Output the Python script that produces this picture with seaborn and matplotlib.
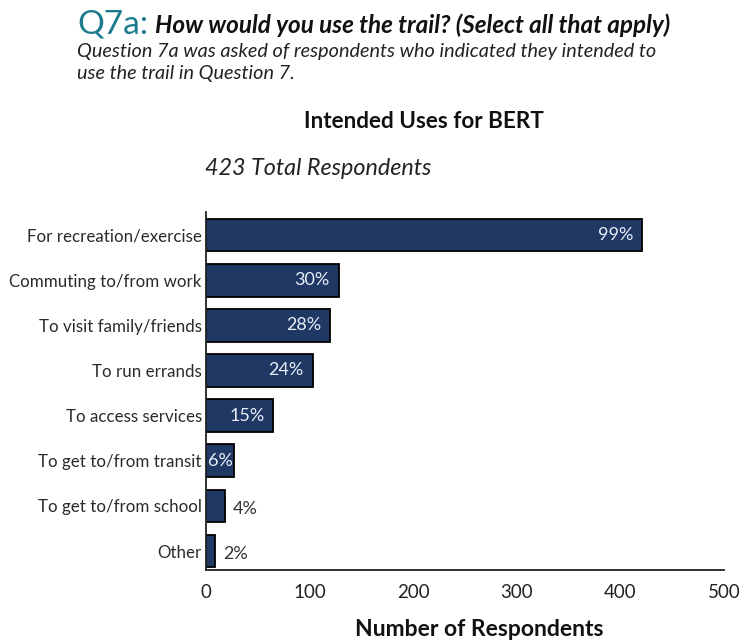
import matplotlib
matplotlib.use("Agg")
import matplotlib.pyplot as plt
import seaborn as sns
import pandas as pd

categories = ["For recreation/exercise", "Commuting to/from work", "To visit family/friends",
              "To run errands", "To access services", "To get to/from transit",
              "To get to/from school", "Other"]
counts = [421, 128, 120, 103, 65, 27, 18, 9]
pct_labels = ["99%", "30%", "28%", "24%", "15%", "6%", "4%", "2%"]
xticks = [0, 100, 200, 300, 400, 500]

sns.set_theme(style="white")
plt.rcParams['font.family'] = ['Lato', 'DejaVu Sans']

df = pd.DataFrame({"category": categories, "count": counts})

fig = plt.figure(figsize=(7.49, 6.42), dpi=100)
ax = fig.add_axes([206/749, 1-570/642, (724-206)/749, (570-212)/642])

sns.barplot(data=df, x="count", y="category", orient="h", color="#1f3864",
            edgecolor="black", linewidth=1.3, width=0.725, saturation=1, ax=ax)

ax.set_xlim(0, 500)
ax.set_ylim(7.42, -0.51)
ax.set_xticks(xticks)
ax.set_xticklabels([str(t) for t in xticks], fontsize=13.5, color="#222222")
ax.tick_params(axis="x", direction="in", length=6, width=1.2, color="#222222", pad=10)
ax.tick_params(axis="y", length=0, labelsize=12.2, labelcolor="#2a2a2a", pad=3)
ax.set_ylabel("")
ax.set_xlabel("Number of Respondents", fontsize=16.5, fontweight="bold", color="#111111")
ax.xaxis.set_label_coords((479 - 206) / 518, -(636 - 570) / 358, transform=ax.transAxes)
ax.xaxis.label.set_va("baseline")
for s in ["top", "right"]:
    ax.spines[s].set_visible(False)
for s in ["left", "bottom"]:
    ax.spines[s].set_color("#222222")
    ax.spines[s].set_linewidth(1.3)

for i, (v, lab) in enumerate(zip(counts, pct_labels)):
    if v >= 50:
        ax.annotate(lab, (v, i), xytext=(-6.5, 0), textcoords="offset points",
                    ha="right", va="center", color="#e8eef8", fontsize=13)
    elif v >= 20:
        ax.annotate(lab, (v / 2, i), ha="center", va="center", color="#e8eef8", fontsize=13)
    else:
        ax.annotate(lab, (v, i + 0.07), xytext=(6, 0), textcoords="offset points",
                    ha="left", va="center", color="#333333", fontsize=13)

fig.text(77/749, 1-33/642, "Q7a:", fontsize=24, color="#1b7a8c", va="baseline")
fig.text(155/749, 1-33/642, "How would you use the trail? (Select all that apply)",
         fontsize=17.5, fontweight="bold", style="italic", color="#111111", va="baseline")
fig.text(77/749, 1-57/642, "Question 7a was asked of respondents who indicated they intended to",
         fontsize=14.3, style="italic", color="#222222", va="baseline")
fig.text(77/749, 1-79/642, "use the trail in Question 7.",
         fontsize=14.3, style="italic", color="#222222", va="baseline")
fig.text(424/749, 1-128/642, "Intended Uses for BERT", fontsize=16.2, fontweight="bold",
         color="#111111", ha="center", va="baseline")
fig.text(205/749, 1-175/642, "423 Total Respondents", fontsize=16.8, style="italic",
         color="#222222", va="baseline")

fig.savefig("out.png", dpi=100)
